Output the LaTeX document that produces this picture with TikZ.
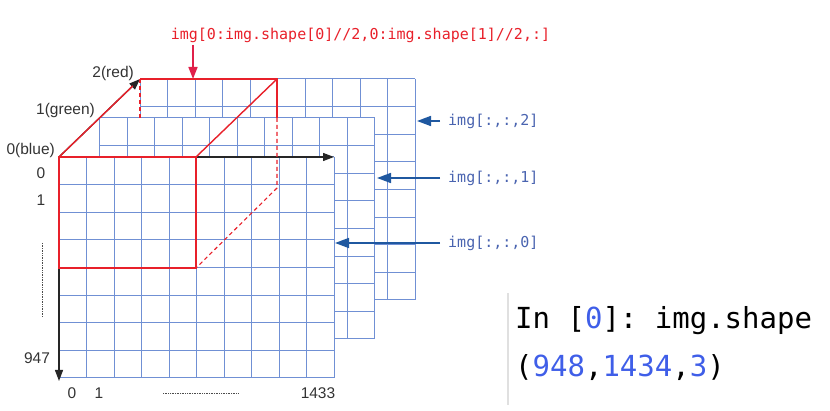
\documentclass[tikz,border=0pt]{standalone}
\usepackage{fontspec}
\setmainfont{Liberation Sans}
\setmonofont{DejaVu Sans Mono}
\usetikzlibrary{arrows.meta}
\definecolor{gridblue}{HTML}{7090D4}
\definecolor{boxred}{HTML}{E8202A}
\definecolor{arrowblue}{HTML}{1F58A0}
\definecolor{labelblue}{HTML}{4A64B0}
\definecolor{numblue}{HTML}{3F5EE8}
\definecolor{topred}{HTML}{E0204A}
\tikzset{
  gridline/.style={draw=gridblue, line width=1pt},
  redline/.style={draw=boxred, line width=1.4pt},
  reddash/.style={draw=boxred, line width=1.1pt, dash pattern=on 4pt off 3pt},
  axisarrow/.style={draw=black!85, line width=1.3pt, -{Triangle[length=11pt,width=8pt]}},
  bluearrow/.style={draw=arrowblue, line width=1.6pt, -{Triangle[length=14pt,width=10pt]}},
  redarrow/.style={draw=topred, line width=1.5pt, -{Triangle[length=12pt,width=9pt]}},
  axlabel/.style={font=\fontsize{15.5}{16}\selectfont, text=black!80, inner sep=0pt},
  codelabel/.style={font=\ttfamily\fontsize{15}{16}\selectfont, inner sep=0pt},
  bigcode/.style={font=\ttfamily\fontsize{29}{30}\selectfont, inner sep=0pt, anchor=west},
}
\begin{document}
\begin{tikzpicture}[x=1pt,y=-1pt]
\useasboundingbox (0,0) rectangle (830,411);
% three channel grids, back to front
\foreach \ox/\oy in {81/-78, 40.5/-39, 0/0} {
  \begin{scope}[shift={(\ox,\oy)}]
    \fill[white] (59,157) rectangle (334,378);
    \foreach \i in {0,...,10} \draw[gridline] (59+\i*27.5,157) -- (59+\i*27.5,378);
    \foreach \j in {0,...,8} \draw[gridline] (59,157+\j*27.625) -- (334,157+\j*27.625);
  \end{scope}
}
% key coordinates
\coordinate (O) at (59,157);
\coordinate (Xend) at (334,157);
\coordinate (Yend) at (59,381);
\coordinate (Cend) at (140,79);
\coordinate (FTR) at (196,157);
\coordinate (FBR) at (196,268);
\coordinate (FBL) at (59,268);
\coordinate (BTR) at (277,79);
\coordinate (BTL) at (140,79);
\coordinate (BTLm) at (140,118);
\coordinate (BRm) at (277,118);
\coordinate (BBR) at (277,188);
% axes
\draw[axisarrow] (O) -- (Xend);
\draw[axisarrow] (O) -- (Yend);
\draw[axisarrow] (O) -- (Cend);
% red box
\draw[redline, shorten >=10pt] (O) -- (Cend);
\draw[redline] (O) -- (FTR) -- (FBR) -- (FBL) -- cycle;
\draw[redline] (BTL) -- (BTR) -- (BRm);
\draw[redline] (FTR) -- (BTR);
\draw[reddash] (BTL) -- (BTLm);
\draw[reddash] (BRm) -- (BBR) -- (FBR);
% axis labels
\node[axlabel, anchor=east] (lb0) at (55,150) {0(blue)};
\node[axlabel, anchor=east] (lb1) at (95,110) {1(green)};
\node[axlabel, anchor=east] (lb2) at (134,73) {2(red)};
\node[axlabel] (r0) at (41,173) {0};
\node[axlabel] (r1) at (41,200) {1};
\node[axlabel] (r947) at (37,358) {947};
\node[axlabel] (c0) at (72,393) {0};
\node[axlabel] (c1) at (99,393) {1};
\node[axlabel] (c1433) at (318,393) {1433};
\coordinate (vd1) at (42,243);
\coordinate (vd2) at (42,317);
\coordinate (hd1) at (163,393);
\coordinate (hd2) at (238,393);
\draw[black!70, line width=0.7pt, dash pattern=on 0.7pt off 1pt] (vd1) -- (vd2);
\draw[black!70, line width=0.7pt, dash pattern=on 0.7pt off 1pt] (hd1) -- (hd2);
% top red label
\node[codelabel, text=boxred] (slice) at (360.5,35) {img[0:img.shape[0]//2,0:img.shape[1]//2,:]};
\coordinate (sliceTip) at (193,79);
\draw[redarrow] (193,45) -- (sliceTip);
% channel labels
\node[codelabel, text=labelblue, anchor=west] (ch2) at (448,121) {img[:,:,2]};
\node[codelabel, text=labelblue, anchor=west] (ch1) at (448,178) {img[:,:,1]};
\node[codelabel, text=labelblue, anchor=west] (ch0) at (448,243) {img[:,:,0]};
\coordinate (t2) at (417,121);
\coordinate (t1) at (377,178);
\coordinate (t0) at (335,243);
\draw[bluearrow] (ch2.west) ++(-8,0) -- (t2);
\draw[bluearrow] (ch1.west) ++(-8,0) -- (t1);
\draw[bluearrow] (ch0.west) ++(-8,0) -- (t0);
% code cell
\coordinate (bar1) at (508,293);
\coordinate (bar2) at (508,405);
\draw[black!12, line width=1.5pt] (bar1) -- (bar2);
\node[bigcode] (in) at (515,321) {In [\textcolor{numblue}{0}]: img.shape};
\node[bigcode] (out) at (515,368) {(\textcolor{numblue}{948},\textcolor{numblue}{1434},\textcolor{numblue}{3})};
\end{tikzpicture}
\end{document}
